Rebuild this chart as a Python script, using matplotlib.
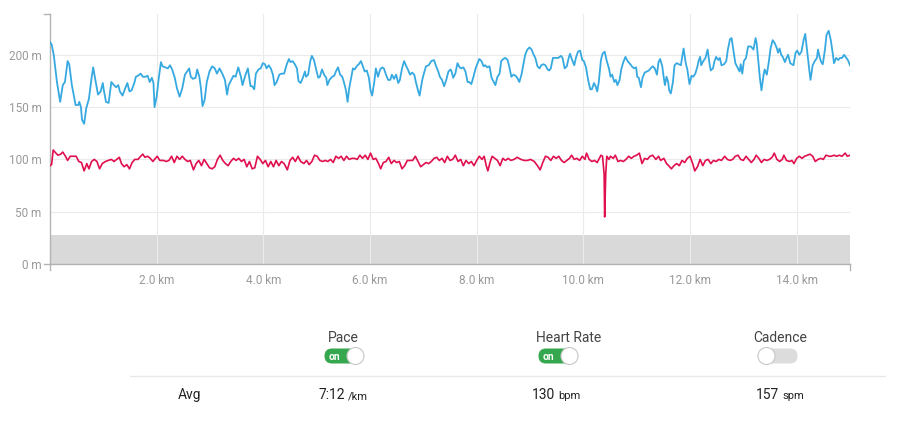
import matplotlib
matplotlib.use("Agg")
import matplotlib.pyplot as plt
from matplotlib.patches import FancyBboxPatch, Circle

plt.rcParams['font.family'] = ['Roboto', 'DejaVu Sans']

# ---- data (distance km, value) ----
pace_pts = [
    (0.00, 212), (0.03, 210), (0.07, 200), (0.13, 174), (0.19, 155), (0.24, 171), (0.28, 174), (0.33, 194),
    (0.36, 191), (0.41, 171), (0.48, 152), (0.53, 152), (0.55, 155), (0.58, 150), (0.60, 138), (0.64, 134),
    (0.68, 149), (0.73, 158), (0.78, 178), (0.81, 188), (0.85, 176), (0.90, 162), (0.95, 165), (0.99, 173),
    (1.01, 166), (1.05, 155), (1.10, 154), (1.15, 174), (1.20, 171), (1.24, 169), (1.28, 171), (1.31, 165),
    (1.36, 161), (1.41, 168), (1.45, 173), (1.49, 165), (1.53, 166), (1.58, 173), (1.61, 179), (1.65, 180),
    (1.70, 182), (1.74, 179), (1.79, 179), (1.83, 180), (1.87, 174), (1.91, 178), (1.94, 173), (1.96, 150),
    (2.00, 160), (2.04, 178), (2.08, 193), (2.11, 189), (2.16, 188), (2.21, 187), (2.25, 190), (2.29, 186),
    (2.34, 178), (2.38, 168), (2.43, 160), (2.48, 168), (2.53, 181), (2.57, 184), (2.61, 187), (2.64, 179),
    (2.68, 177), (2.73, 178), (2.76, 186), (2.80, 179), (2.83, 168), (2.86, 151), (2.90, 157), (2.94, 174),
    (2.99, 184), (3.04, 189), (3.09, 187), (3.13, 182), (3.18, 187), (3.23, 182), (3.28, 176), (3.32, 162),
    (3.35, 171), (3.40, 176), (3.44, 180), (3.48, 179), (3.53, 188), (3.58, 179), (3.61, 171), (3.66, 180),
    (3.71, 187), (3.76, 170), (3.79, 170), (3.83, 167), (3.86, 182), (3.91, 186), (3.95, 187), (3.99, 192),
    (4.03, 191), (4.06, 187), (4.10, 190), (4.14, 187), (4.18, 181), (4.21, 171), (4.25, 174), (4.30, 181),
    (4.34, 182), (4.39, 182), (4.44, 191), (4.48, 196), (4.51, 193), (4.55, 194), (4.59, 191), (4.63, 187),
    (4.66, 175), (4.70, 173), (4.74, 178), (4.78, 184), (4.80, 179), (4.84, 181), (4.88, 194), (4.91, 199),
    (4.95, 195), (4.99, 186), (5.03, 178), (5.06, 179), (5.10, 186), (5.14, 181), (5.18, 178), (5.20, 171),
    (5.24, 176), (5.29, 179), (5.33, 180), (5.36, 184), (5.40, 188), (5.44, 181), (5.48, 179), (5.51, 174),
    (5.55, 166), (5.58, 155), (5.61, 168), (5.64, 176), (5.68, 187), (5.71, 186), (5.75, 189), (5.79, 191),
    (5.83, 194), (5.86, 190), (5.90, 184), (5.94, 185), (5.98, 178), (6.01, 166), (6.04, 161), (6.08, 174),
    (6.11, 187), (6.15, 179), (6.19, 186), (6.23, 188), (6.26, 187), (6.30, 181), (6.34, 176), (6.38, 176),
    (6.41, 181), (6.45, 177), (6.49, 181), (6.53, 173), (6.56, 176), (6.60, 187), (6.64, 194), (6.68, 189),
    (6.71, 186), (6.75, 181), (6.79, 183), (6.83, 181), (6.86, 174), (6.90, 166), (6.93, 161), (6.98, 176),
    (7.01, 182), (7.05, 189), (7.10, 190), (7.15, 194), (7.20, 195), (7.24, 189), (7.28, 184), (7.31, 179),
    (7.35, 176), (7.39, 170), (7.43, 176), (7.47, 184), (7.51, 186), (7.53, 184), (7.56, 178), (7.60, 182),
    (7.64, 192), (7.68, 188), (7.71, 187), (7.75, 188), (7.79, 184), (7.83, 174), (7.86, 174), (7.90, 172),
    (7.94, 179), (7.98, 187), (8.01, 191), (8.05, 196), (8.09, 194), (8.13, 189), (8.16, 190), (8.20, 188),
    (8.24, 189), (8.28, 178), (8.31, 175), (8.35, 171), (8.39, 179), (8.43, 182), (8.46, 194), (8.50, 196),
    (8.54, 197), (8.58, 195), (8.61, 189), (8.65, 179), (8.69, 181), (8.73, 180), (8.76, 178), (8.80, 174),
    (8.84, 181), (8.88, 192), (8.91, 200), (8.95, 205), (8.99, 207), (9.03, 205), (9.06, 201), (9.10, 197),
    (9.14, 189), (9.18, 187), (9.21, 190), (9.25, 191), (9.29, 190), (9.33, 186), (9.36, 185), (9.39, 187),
    (9.43, 197), (9.48, 197), (9.53, 197), (9.58, 199), (9.61, 197), (9.65, 187), (9.69, 189), (9.73, 198),
    (9.75, 201), (9.79, 195), (9.83, 190), (9.86, 197), (9.90, 203), (9.94, 204), (9.98, 195), (10.01, 194),
    (10.05, 188), (10.09, 176), (10.13, 167), (10.16, 167), (10.20, 173), (10.23, 170), (10.26, 165), (10.29, 174),
    (10.33, 195), (10.36, 201), (10.40, 203), (10.44, 194), (10.48, 187), (10.51, 179), (10.54, 181), (10.58, 174),
    (10.61, 176), (10.64, 171), (10.68, 176), (10.71, 186), (10.75, 193), (10.79, 198), (10.83, 194), (10.88, 191),
    (10.91, 189), (10.95, 187), (10.99, 188), (11.01, 179), (11.04, 178), (11.08, 169), (11.11, 178), (11.15, 183),
    (11.19, 184), (11.23, 185), (11.26, 187), (11.30, 189), (11.34, 187), (11.38, 181), (11.41, 193), (11.44, 196),
    (11.48, 189), (11.50, 181), (11.53, 171), (11.56, 179), (11.59, 174), (11.61, 166), (11.64, 163), (11.68, 174),
    (11.71, 190), (11.75, 192), (11.79, 191), (11.83, 190), (11.85, 197), (11.88, 206), (11.92, 192), (11.95, 186),
    (11.99, 172), (12.03, 180), (12.06, 179), (12.10, 182), (12.14, 189), (12.16, 194), (12.19, 198), (12.21, 190),
    (12.25, 194), (12.29, 197), (12.33, 205), (12.37, 190), (12.39, 185), (12.43, 187), (12.46, 194), (12.49, 198),
    (12.53, 195), (12.56, 197), (12.59, 190), (12.64, 191), (12.68, 194), (12.71, 205), (12.75, 215), (12.78, 216),
    (12.81, 206), (12.85, 192), (12.89, 188), (12.93, 184), (12.95, 191), (12.98, 182), (13.01, 194), (13.05, 197),
    (13.09, 208), (13.14, 208), (13.19, 205), (13.23, 216), (13.25, 211), (13.28, 194), (13.31, 178), (13.34, 166),
    (13.38, 181), (13.40, 186), (13.44, 181), (13.48, 194), (13.51, 206), (13.55, 214), (13.59, 211), (13.63, 206),
    (13.65, 202), (13.68, 206), (13.71, 200), (13.74, 198), (13.78, 193), (13.81, 197), (13.84, 200), (13.88, 192),
    (13.91, 191), (13.94, 190), (13.98, 202), (14.01, 204), (14.05, 200), (14.09, 203), (14.13, 214), (14.16, 220),
    (14.20, 202), (14.24, 184), (14.26, 176), (14.30, 190), (14.34, 194), (14.38, 197), (14.40, 205), (14.43, 198),
    (14.46, 193), (14.49, 191), (14.53, 205), (14.56, 219), (14.60, 223), (14.64, 214), (14.68, 200), (14.70, 192),
    (14.74, 197), (14.78, 195), (14.81, 197), (14.85, 197), (14.89, 200), (14.93, 197), (14.96, 195), (15.00, 190),
]

hr_pts = [
    (0.00, 94), (0.03, 95), (0.06, 109), (0.11, 106), (0.15, 104), (0.20, 105), (0.24, 107), (0.29, 103),
    (0.33, 99), (0.38, 103), (0.43, 103), (0.49, 103), (0.54, 98), (0.59, 97), (0.64, 89), (0.69, 96),
    (0.73, 91), (0.78, 98), (0.83, 100), (0.88, 98), (0.93, 91), (0.98, 96), (1.04, 98), (1.09, 99),
    (1.15, 100), (1.20, 98), (1.25, 100), (1.30, 102), (1.34, 96), (1.39, 93), (1.44, 95), (1.49, 91),
    (1.54, 97), (1.59, 100), (1.65, 100), (1.70, 103), (1.74, 105), (1.78, 102), (1.83, 103), (1.88, 101),
    (1.93, 98), (1.96, 100), (2.01, 103), (2.06, 99), (2.13, 99), (2.18, 98), (2.23, 99), (2.28, 103),
    (2.33, 97), (2.38, 103), (2.43, 100), (2.48, 103), (2.53, 100), (2.58, 98), (2.63, 99), (2.69, 90),
    (2.74, 96), (2.79, 99), (2.84, 94), (2.89, 100), (2.94, 96), (2.99, 92), (3.04, 91), (3.09, 93),
    (3.14, 100), (3.19, 104), (3.24, 99), (3.29, 96), (3.34, 94), (3.39, 98), (3.44, 101), (3.49, 99),
    (3.54, 101), (3.59, 98), (3.64, 100), (3.69, 93), (3.74, 98), (3.79, 91), (3.84, 92), (3.89, 103),
    (3.94, 100), (3.99, 96), (4.04, 99), (4.09, 93), (4.14, 98), (4.19, 93), (4.24, 99), (4.29, 94),
    (4.34, 98), (4.39, 96), (4.45, 90), (4.50, 99), (4.55, 102), (4.60, 98), (4.65, 103), (4.70, 98),
    (4.76, 96), (4.81, 99), (4.86, 95), (4.91, 98), (4.96, 104), (5.01, 103), (5.06, 99), (5.11, 98),
    (5.16, 99), (5.21, 98), (5.26, 100), (5.31, 97), (5.36, 103), (5.41, 101), (5.46, 103), (5.51, 99),
    (5.56, 103), (5.61, 100), (5.66, 101), (5.71, 101), (5.76, 100), (5.81, 104), (5.86, 101), (5.91, 104),
    (5.96, 100), (6.01, 106), (6.06, 100), (6.11, 101), (6.16, 96), (6.20, 91), (6.25, 97), (6.30, 98),
    (6.35, 102), (6.40, 96), (6.45, 99), (6.50, 97), (6.55, 98), (6.60, 91), (6.65, 94), (6.70, 99),
    (6.75, 99), (6.80, 99), (6.85, 103), (6.90, 98), (6.95, 93), (7.00, 95), (7.05, 97), (7.10, 96),
    (7.15, 98), (7.20, 101), (7.25, 102), (7.30, 99), (7.35, 101), (7.40, 97), (7.45, 103), (7.50, 99),
    (7.55, 100), (7.60, 104), (7.65, 98), (7.70, 100), (7.75, 94), (7.80, 99), (7.85, 96), (7.90, 98),
    (7.95, 94), (8.00, 99), (8.05, 103), (8.10, 100), (8.14, 103), (8.18, 94), (8.21, 89), (8.25, 97),
    (8.29, 103), (8.34, 101), (8.39, 99), (8.44, 94), (8.49, 101), (8.54, 99), (8.59, 101), (8.64, 99),
    (8.70, 100), (8.76, 102), (8.83, 100), (8.89, 99), (8.95, 99), (9.01, 100), (9.08, 98), (9.14, 94),
    (9.19, 90), (9.24, 97), (9.29, 103), (9.34, 102), (9.39, 99), (9.44, 103), (9.49, 101), (9.54, 103),
    (9.59, 99), (9.64, 97), (9.69, 99), (9.74, 101), (9.78, 104), (9.83, 100), (9.88, 101), (9.93, 99),
    (9.98, 103), (10.03, 100), (10.06, 106), (10.11, 100), (10.16, 98), (10.21, 99), (10.26, 97), (10.33, 104),
    (10.36, 103), (10.39, 86), (10.40, 45), (10.42, 86), (10.44, 103), (10.48, 100), (10.51, 103), (10.56, 101),
    (10.60, 104), (10.65, 98), (10.70, 99), (10.75, 98), (10.80, 100), (10.85, 103), (10.90, 101), (10.95, 103),
    (11.00, 104), (11.05, 106), (11.10, 96), (11.15, 101), (11.20, 100), (11.25, 103), (11.30, 104), (11.36, 100),
    (11.41, 103), (11.45, 99), (11.51, 101), (11.56, 96), (11.60, 94), (11.65, 91), (11.70, 94), (11.75, 96),
    (11.80, 94), (11.85, 99), (11.90, 97), (11.95, 101), (12.00, 103), (12.05, 96), (12.09, 89), (12.14, 93),
    (12.19, 100), (12.24, 94), (12.29, 99), (12.34, 100), (12.39, 96), (12.44, 99), (12.49, 98), (12.54, 100),
    (12.59, 99), (12.65, 103), (12.70, 100), (12.75, 99), (12.80, 100), (12.85, 103), (12.90, 104), (12.95, 100),
    (13.00, 99), (13.05, 103), (13.10, 100), (13.15, 97), (13.20, 100), (13.24, 104), (13.29, 101), (13.34, 97),
    (13.39, 100), (13.44, 99), (13.49, 100), (13.54, 102), (13.58, 106), (13.63, 100), (13.68, 98), (13.73, 100),
    (13.76, 104), (13.81, 99), (13.87, 98), (13.91, 99), (13.95, 96), (14.00, 101), (14.05, 103), (14.10, 101),
    (14.15, 103), (14.20, 104), (14.25, 105), (14.30, 103), (14.35, 98), (14.40, 100), (14.45, 101), (14.50, 100),
    (14.55, 104), (14.61, 103), (14.65, 103), (14.70, 104), (14.75, 103), (14.80, 104), (14.85, 103), (14.91, 106),
    (14.95, 103), (15.00, 104),
]

elev_km = [0, 1, 2, 3, 4, 5, 6, 7, 8, 9, 10, 11, 12, 13, 14, 15]
elev_m = [28, 28, 28, 28, 28, 28, 28, 28, 28, 28, 28, 28, 28, 28, 28, 28]

x_ticks = [2, 4, 6, 8, 10, 12, 14]
x_labels = ["2.0 km", "4.0 km", "6.0 km", "8.0 km", "10.0 km", "12.0 km", "14.0 km"]
y_ticks = [0, 50, 100, 150, 200]
y_labels = ["0 m", "50 m", "100 m", "150 m", "200 m"]

metrics = ["Pace", "Heart Rate", "Cadence"]
metric_on = [True, True, False]
avg_values = ["7:12", "130", "157"]
avg_units = ["/km", "bpm", "spm"]

pace_km, pace_m = zip(*pace_pts)
hr_km, hr_m = zip(*hr_pts)

# ---- figure ----
fig = plt.figure(figsize=(9, 4.4), dpi=100)

# overlay for the toggles / avg table, 1 unit = 1 px
ui = fig.add_axes([0, 0, 1, 1])
ui.set_xlim(0, 900)
ui.set_ylim(440, 0)
ui.axis('off')

ax = fig.add_axes([50 / 900, 1 - 264 / 440, 800 / 900, 250 / 440])
ax.fill_between(elev_km, 0, elev_m, color='#d9d9d9', lw=0, zorder=1)
ax.plot(pace_km, pace_m, color='#36a9e1', lw=1.3, zorder=3)
ax.plot(hr_km, hr_m, color='#e0104f', lw=1.2, zorder=3)

ax.set_xlim(0, 15)
ax.set_ylim(0, 239)
ax.set_xticks(x_ticks)
ax.set_xticklabels(x_labels)
ax.set_yticks(y_ticks)
ax.set_yticklabels(y_labels)
ax.tick_params(length=0, colors='#999999', labelsize=8.5)
ax.tick_params(axis='y', pad=6)
ax.tick_params(axis='x', pad=7)
ax.grid(True, color='#ebebeb', lw=0.8)
for s in ['top', 'right']:
    ax.spines[s].set_visible(False)
for s in ['left', 'bottom']:
    ax.spines[s].set_color('#b3b3b3')
    ax.spines[s].set_linewidth(1)

# small end ticks
tk = dict(color='#b3b3b3', lw=1, transform=ax.transAxes, clip_on=False)
ax.plot([-0.007, 0], [1, 1], **tk)
ax.plot([-0.007, 0], [0, 0], **tk)
ax.plot([0, 0], [0, -0.025], **tk)
ax.plot([1, 1], [0, -0.025], **tk)

# ---- toggles and averages ----
label_x = [343, 569, 780]
toggle_x = [344, 558, 778]
avg_x = [346, 556, 780]


def toggle(cx, cy, on):
    w, h = 39, 15
    color = '#35a84f' if on else '#dcdcdc'
    ui.add_patch(FancyBboxPatch((cx - w / 2, cy - h / 2), w, h,
                                boxstyle="round,pad=0,rounding_size=7.5",
                                fc=color, ec='none'))
    kx = cx + w / 2 - 8 if on else cx - w / 2 + 8
    ui.add_patch(Circle((kx, cy), 8.5, fc='white', ec='#c8c8c8', lw=0.8))
    if on:
        ui.text(cx - 10, cy + 0.5, "on", color='white', fontsize=7.5,
                fontweight='bold', ha='center', va='center')


for name, on, lx, tx in zip(metrics, metric_on, label_x, toggle_x):
    ui.text(lx, 338, name, fontsize=10, color='#444444', ha='center', va='center')
    toggle(tx, 356, on)

ui.plot([130, 885], [376, 376], color='#e8e8e8', lw=1)
ui.text(189, 395, "Avg", fontsize=10, color='#222222', ha='center', va='center')
for val, unit, x in zip(avg_values, avg_units, avg_x):
    ui.text(x - 1, 395, val, fontsize=10, color='#222222', ha='right', va='center')
    ui.text(x + 2, 396, unit, fontsize=8, color='#222222', ha='left', va='center')

fig.savefig("out.png", dpi=100, facecolor='white')
